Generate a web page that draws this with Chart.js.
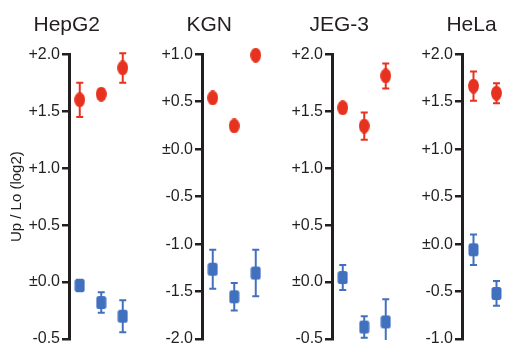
<!DOCTYPE html>
<html lang="en">
<head>
    <meta charset="UTF-8">
    <meta name="viewport" content="width=device-width, initial-scale=1.0">
    <title>Up / Lo (log2) per cell line</title>
    <script src="https://cdn.jsdelivr.net/npm/chart.js"></script>
    <style>
        body { margin: 0; width: 511px; height: 346px; overflow: hidden; position: relative; background: #fff; }
        canvas { position: absolute; top: 0; }
    </style>
</head>
<body>
    <canvas id="panel0"></canvas>
    <canvas id="panel1"></canvas>
    <canvas id="panel2"></canvas>
    <canvas id="panel3"></canvas>

    <script>
        // One panel per cell line
        const cellLines = ['HepG2', 'KGN', 'JEG-3', 'HeLa'];

        // Y-axis range of each panel
        const yMin = [-0.5, -2.0, -0.5, -1.0];
        const yMax = [2.0, 1.0, 2.0, 2.0];

        // Red circles (Up): mean and error bar half-length
        const upMean = [[1.60, 1.65, 1.88], [0.54, 0.245, 0.99], [1.53, 1.37, 1.81], [1.665, 1.59]];
        const upErr  = [[0.15, 0.04, 0.13], [0.03, 0.03, 0.02], [0.04, 0.12, 0.11], [0.155, 0.105]];

        // Blue squares (Lo): mean and error bar half-length
        const loMean = [[-0.03, -0.18, -0.30], [-1.265, -1.555, -1.305], [0.04, -0.395, -0.35], [-0.06, -0.52]];
        const loErr  = [[0.05, 0.09, 0.14], [0.205, 0.145, 0.245], [0.11, 0.095, 0.2], [0.16, 0.13]];

        // Page layout of the panels (px): axis line, title centre, x spacing
        const axisX = [69, 202, 332, 462];
        const titleX = [88.5, 220, 352, 483];
        const pxPerStep = [21.5, 21.5, 21.5, 23];

        const ink = '#231f20';
        const red = '#e6321e';
        const blue = '#4170be';

        Chart.defaults.font.family = "'Liberation Sans', Arial, sans-serif";
        Chart.defaults.color = ink;

        // marker images: red ellipse, blue rounded square
        function makeMarker(color, shape) {
            const c = document.createElement('canvas');
            c.width = 11;
            c.height = 15;
            const g = c.getContext('2d');
            g.fillStyle = color;
            g.beginPath();
            if (shape === 'ellipse') {
                g.ellipse(5.5, 7.5, 5.4, 7.4, 0, 0, Math.PI * 2);
            } else if (g.roundRect) {
                g.roundRect(0.5, 1, 10, 13, 2.5);
            } else {
                g.rect(0.5, 1, 10, 13);
            }
            g.fill();
            return c;
        }
        const redDot = makeMarker(red, 'ellipse');
        const blueSquare = makeMarker(blue, 'square');

        // draws the vertical error bars with caps, using the chart's own scales
        const errorBars = {
            id: 'errorBars',
            beforeDatasetsDraw(chart) {
                const { ctx, chartArea } = chart;
                const x = chart.scales.x;
                const y = chart.scales.y;
                ctx.save();
                ctx.beginPath();
                ctx.rect(chartArea.left, chartArea.top - 4, chartArea.width + 30, chartArea.height + 5);
                ctx.clip();
                chart.data.datasets.forEach(ds => {
                    ctx.strokeStyle = ds.borderColor;
                    ctx.lineWidth = 2;
                    ds.data.forEach(p => {
                        const px = x.getPixelForValue(p.x);
                        const top = y.getPixelForValue(p.y + p.err);
                        const bot = y.getPixelForValue(p.y - p.err);
                        ctx.beginPath();
                        ctx.moveTo(px, top);
                        ctx.lineTo(px, bot);
                        ctx.moveTo(px - 3.5, top);
                        ctx.lineTo(px + 3.5, top);
                        ctx.moveTo(px - 3.5, bot);
                        ctx.lineTo(px + 3.5, bot);
                        ctx.stroke();
                    });
                });
                ctx.restore();
            }
        };

        function tickLabel(value) {
            if (Math.abs(value) < 1e-9) return '\u00b10.0';
            return (value > 0 ? '+' : '') + value.toFixed(1);
        }

        function toPoints(means, errs) {
            return means.map((m, i) => ({ x: i + 1, y: m, err: errs[i] }));
        }

        cellLines.forEach((name, i) => {
            const yw = i === 0 ? axisX[0] : 50;      // width of the y-axis box
            const left = axisX[i] - yw;
            const width = Math.round(2 * (titleX[i] - left));
            const plotWidth = 3 * pxPerStep[i];

            const canvas = document.getElementById('panel' + i);
            canvas.width = width;
            canvas.height = 360;
            canvas.style.left = left + 'px';

            new Chart(canvas, {
                type: 'scatter',
                data: {
                    datasets: [
                        {
                            label: 'Up',
                            data: toPoints(upMean[i], upErr[i]),
                            borderColor: red,
                            backgroundColor: red,
                            pointStyle: redDot,
                            clip: false
                        },
                        {
                            label: 'Lo',
                            data: toPoints(loMean[i], loErr[i]),
                            borderColor: blue,
                            backgroundColor: blue,
                            pointStyle: blueSquare,
                            clip: false
                        }
                    ]
                },
                options: {
                    responsive: false,
                    animation: false,
                    layout: {
                        padding: { top: 0, bottom: 21, left: 0, right: width - yw - plotWidth }
                    },
                    scales: {
                        x: {
                            type: 'linear',
                            min: 0.5,
                            max: 3.5,
                            display: false
                        },
                        y: {
                            min: yMin[i],
                            max: yMax[i],
                            afterFit: scale => { scale.width = yw; },
                            ticks: {
                                stepSize: 0.5,
                                padding: 2,
                                color: ink,
                                font: { size: 16 },
                                callback: tickLabel
                            },
                            grid: {
                                drawOnChartArea: false,
                                drawTicks: true,
                                tickLength: 7,
                                color: ink,
                                lineWidth: 2.5
                            },
                            border: { display: true, color: ink, width: 3 },
                            title: {
                                display: i === 0,
                                text: 'Up / Lo (log2)',
                                color: ink,
                                font: { size: 15 },
                                padding: { top: 8, bottom: 0 }
                            }
                        }
                    },
                    plugins: {
                        legend: { display: false },
                        tooltip: { enabled: false },
                        title: {
                            display: true,
                            text: name,
                            color: ink,
                            font: { size: 21, weight: 'normal' },
                            padding: { top: 12.4, bottom: 16.7 }
                        }
                    }
                },
                plugins: [errorBars]
            });
        });
    </script>
</body>
</html>
